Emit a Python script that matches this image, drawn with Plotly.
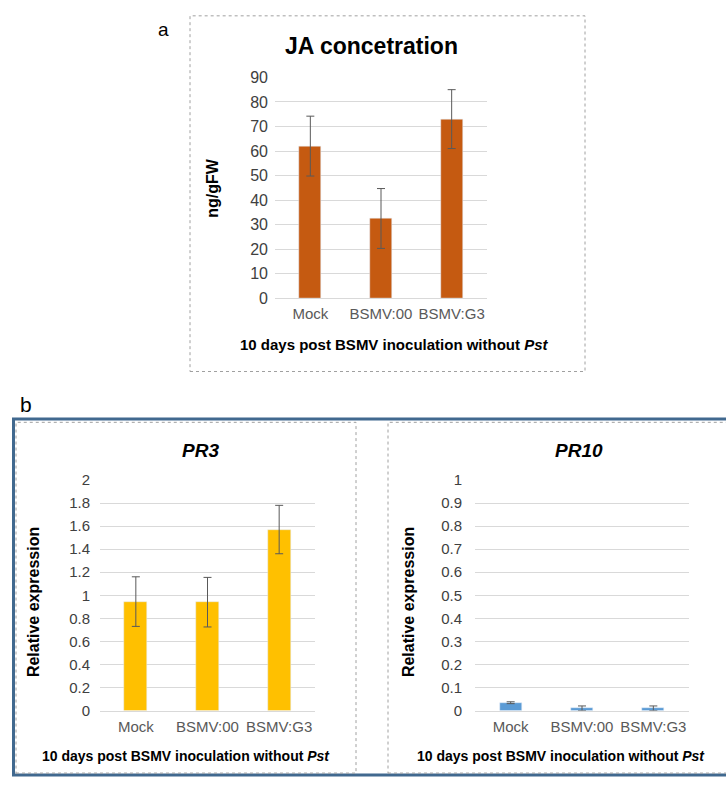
import plotly.graph_objects as go

# ---------------- data ----------------
categories = ["Mock", "BSMV:00", "BSMV:G3"]

ja_values = [62.0, 32.5, 73.0]
ja_errors = [12.2, 12.2, 12.0]

pr3_values = [0.945, 0.94, 1.57]
pr3_errors = [0.215, 0.215, 0.21]

pr10_values = [0.034, 0.010, 0.010]
pr10_errors = [0.004, 0.010, 0.010]

ja_ticks = list(range(0, 91, 10))
pr3_ticks = [0, 0.2, 0.4, 0.6, 0.8, 1, 1.2, 1.4, 1.6, 1.8, 2]
pr3_ticktext = ["0", "0.2", "0.4", "0.6", "0.8", "1", "1.2", "1.4", "1.6", "1.8", "2"]
pr10_ticks = [0, 0.1, 0.2, 0.3, 0.4, 0.5, 0.6, 0.7, 0.8, 0.9, 1]
pr10_ticktext = ["0", "0.1", "0.2", "0.3", "0.4", "0.5", "0.6", "0.7", "0.8", "0.9", "1"]

# ---------------- layout helpers ----------------
W, H = 726, 786
FONT = "Arial, Liberation Sans, sans-serif"
GRID = "#d9d9d9"
TICKC = "#404040"


def px(x):
    return x / W


def py(y):
    return 1 - y / H


fig = go.Figure()

err_style = dict(type="data", visible=True, color="#595959", thickness=1, width=4)

fig.add_trace(go.Bar(x=categories, y=ja_values, width=0.31, marker_color="#c55a11",
                     error_y=dict(array=ja_errors, **err_style), xaxis="x", yaxis="y",
                     showlegend=False))
fig.add_trace(go.Bar(x=categories, y=pr3_values, width=0.32, marker_color="#ffc000",
                     error_y=dict(array=pr3_errors, **err_style), xaxis="x2", yaxis="y2",
                     showlegend=False))
fig.add_trace(go.Bar(x=categories, y=pr10_values, width=0.31, marker_color="#5b9bd5",
                     error_y=dict(array=pr10_errors, **err_style), xaxis="x3", yaxis="y3",
                     showlegend=False))


def xaxis(domain, anchor, size):
    return dict(domain=domain, anchor=anchor, showgrid=False, showline=True, linecolor=GRID,
                linewidth=1, ticks="", tickfont=dict(family=FONT, size=size, color="#595959"),
                ticklabelstandoff=2, fixedrange=True)


def yaxis(domain, anchor, rng, vals, text, size, standoff):
    return dict(domain=domain, anchor=anchor, range=rng, tickvals=vals, ticktext=text,
                showgrid=True, gridcolor=GRID, gridwidth=1, zeroline=False, showline=False,
                ticks="", tickfont=dict(family=FONT, size=size, color=TICKC),
                ticklabelstandoff=standoff, fixedrange=True)


y_top_b, y_bot_b = 482, 718

fig.update_layout(
    width=W, height=H, margin=dict(l=0, r=0, t=0, b=0),
    paper_bgcolor="white", plot_bgcolor="white", bargap=0,
    font=dict(family=FONT),
    xaxis=xaxis([px(275), px(487)], "y", 15),
    yaxis=yaxis([py(296), py(70)], "x", [0, 90], ja_ticks, [str(v) for v in ja_ticks], 16, 6),
    xaxis2=xaxis([px(100), px(315)], "y2", 15),
    yaxis2=yaxis([py(y_bot_b), py(y_top_b)], "x2", [0, 2], pr3_ticks, pr3_ticktext, 15, 9),
    xaxis3=xaxis([px(475), px(689)], "y3", 15),
    yaxis3=yaxis([py(y_bot_b), py(y_top_b)], "x3", [0, 1], pr10_ticks, pr10_ticktext, 15, 12),
)

# ---------------- frames ----------------
shapes = [
    # panel a dotted box
    dict(type="rect", xref="paper", yref="paper", x0=px(190), x1=px(585), y0=py(371), y1=py(7),
         line=dict(color="#a0a0a0", width=1, dash="dot")),
    # panel b outer blue frame
    dict(type="rect", xref="paper", yref="paper", x0=px(13.5), x1=px(760), y0=py(784), y1=py(419.5),
         line=dict(color="#41698f", width=3)),
    # PR3 dotted box
    dict(type="rect", xref="paper", yref="paper", x0=px(16), x1=px(356), y0=py(782), y1=py(423),
         line=dict(color="#a0a0a0", width=1, dash="dot")),
    # PR10 dotted box
    dict(type="rect", xref="paper", yref="paper", x0=px(388), x1=px(740), y0=py(782), y1=py(423),
         line=dict(color="#a0a0a0", width=1, dash="dot")),
]
fig.update_layout(shapes=shapes)

# ---------------- texts ----------------
def ann(text, x, y, size, color="black", angle=0):
    fig.add_annotation(text=text, xref="paper", yref="paper", x=px(x), y=py(y),
                       xanchor="center", yanchor="middle", showarrow=False, textangle=angle,
                       font=dict(family=FONT, size=size, color=color))


xtitle = "<b>10 days post BSMV inoculation without <i>Pst</i></b>"

ann("a", 163, 21, 19)
ann("b", 26, 405, 21)

ann("<b>JA concetration</b>", 371, 38, 23)
ann("<b>ng/gFW</b>", 213, 183, 16, angle=-90)
ann(xtitle, 394, 343, 15)

ann("<b><i>PR3</i></b>", 200, 452, 19)
ann("<b>Relative expression</b>", 33, 607, 16, angle=-90)
ann(xtitle, 186, 765, 14)

ann("<b><i>PR10</i></b>", 579, 452, 19)
ann("<b>Relative expression</b>", 408, 607, 16, angle=-90)
ann(xtitle, 561, 765, 14)

fig.write_html("out.html")
